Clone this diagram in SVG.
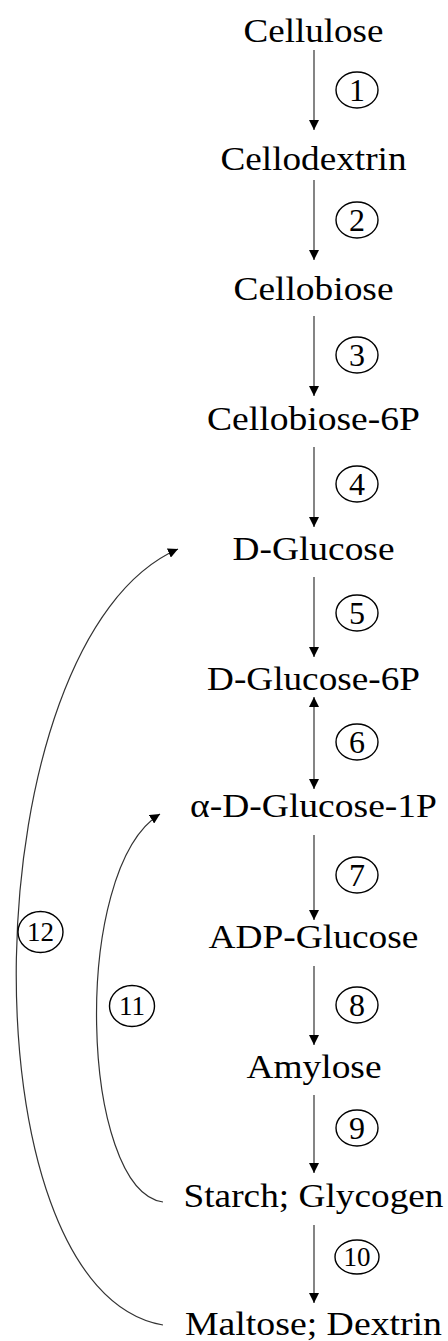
<svg xmlns="http://www.w3.org/2000/svg" width="448" height="1341" viewBox="0 0 448 1341">
  <style>
    .lbl { font-family: "Liberation Serif", "Times New Roman", serif; font-size: 34px; fill: #000; text-anchor: middle; }
    .num { font-family: "Liberation Serif", "Times New Roman", serif; font-size: 32px; fill: #000; text-anchor: middle; }
    .num2 { font-family: "Liberation Serif", "Times New Roman", serif; font-size: 27px; fill: #000; text-anchor: middle; }
    .ring { fill: none; stroke: #000; stroke-width: 1.4; }
    .edge { fill: none; stroke: #333; stroke-width: 1.2; }
  </style>
  <defs>
    <marker id="head" viewBox="0 0 10 10" refX="10" refY="5" markerWidth="10" markerHeight="10" markerUnits="userSpaceOnUse" orient="auto-start-reverse">
      <path d="M0,0 L10,5 L0,10 Z" fill="#000"/>
    </marker>
  </defs>
  <rect width="448" height="1341" fill="#fff"/>

  <!-- metabolites -->
  <g id="n-cellulose"><text class="lbl" x="313.5" y="42" textLength="140" lengthAdjust="spacingAndGlyphs">Cellulose</text></g>
  <g id="n-cellodextrin"><text class="lbl" x="313.5" y="170" textLength="186" lengthAdjust="spacingAndGlyphs">Cellodextrin</text></g>
  <g id="n-cellobiose"><text class="lbl" x="313.5" y="300" textLength="160" lengthAdjust="spacingAndGlyphs">Cellobiose</text></g>
  <g id="n-cellobiose6p"><text class="lbl" x="313.5" y="430" textLength="213" lengthAdjust="spacingAndGlyphs">Cellobiose-6P</text></g>
  <g id="n-dglucose"><text class="lbl" x="313.5" y="560" textLength="162" lengthAdjust="spacingAndGlyphs">D-Glucose</text></g>
  <g id="n-dglucose6p"><text class="lbl" x="313.5" y="690" textLength="213" lengthAdjust="spacingAndGlyphs">D-Glucose-6P</text></g>
  <g id="n-adglucose1p"><text class="lbl" x="313.5" y="817" textLength="247" lengthAdjust="spacingAndGlyphs">α-D-Glucose-1P</text></g>
  <g id="n-adpglucose"><text class="lbl" x="313.5" y="948" textLength="210" lengthAdjust="spacingAndGlyphs">ADP-Glucose</text></g>
  <g id="n-amylose"><text class="lbl" x="314" y="1078" textLength="135" lengthAdjust="spacingAndGlyphs">Amylose</text></g>
  <g id="n-starch"><text class="lbl" x="313.5" y="1207" textLength="260" lengthAdjust="spacingAndGlyphs">Starch; Glycogen</text></g>
  <g id="n-maltose"><text class="lbl" x="313.5" y="1335" textLength="257" lengthAdjust="spacingAndGlyphs">Maltose; Dextrin</text></g>

  <!-- reaction arrows -->
  <g id="connectors">
    <line class="edge" x1="314" y1="50" x2="314" y2="130" marker-end="url(#head)"/>
    <line class="edge" x1="314" y1="180" x2="314" y2="260" marker-end="url(#head)"/>
    <line class="edge" x1="314" y1="316" x2="314" y2="396" marker-end="url(#head)"/>
    <line class="edge" x1="314" y1="447" x2="314" y2="527" marker-end="url(#head)"/>
    <line class="edge" x1="314" y1="577" x2="314" y2="657" marker-end="url(#head)"/>
    <line class="edge" x1="314" y1="697" x2="314" y2="789" marker-start="url(#head)" marker-end="url(#head)"/>
    <line class="edge" x1="314" y1="835" x2="314" y2="920" marker-end="url(#head)"/>
    <line class="edge" x1="314" y1="966" x2="314" y2="1045" marker-end="url(#head)"/>
    <line class="edge" x1="314" y1="1095" x2="314" y2="1173" marker-end="url(#head)"/>
    <line class="edge" x1="314" y1="1225" x2="314" y2="1303" marker-end="url(#head)"/>
    <!-- return paths -->
    <path class="edge" d="M163,1202 C80,1190 70,870 160,814" marker-end="url(#head)"/>
    <path class="edge" d="M163,1325 C-40,1290 -30,640 178,549" marker-end="url(#head)"/>
  </g>

  <!-- enzyme step numbers -->
  <g id="s1"><ellipse class="ring" cx="357" cy="90" rx="21" ry="18"/><text class="num" x="357" y="101">1</text></g>
  <g id="s2"><ellipse class="ring" cx="357" cy="220" rx="21" ry="18"/><text class="num" x="357" y="231">2</text></g>
  <g id="s3"><ellipse class="ring" cx="357" cy="355" rx="21" ry="18"/><text class="num" x="357" y="366">3</text></g>
  <g id="s4"><ellipse class="ring" cx="357" cy="484" rx="21" ry="18"/><text class="num" x="357" y="495">4</text></g>
  <g id="s5"><ellipse class="ring" cx="357" cy="613" rx="21" ry="18"/><text class="num" x="357" y="624">5</text></g>
  <g id="s6"><ellipse class="ring" cx="357" cy="742" rx="21" ry="18"/><text class="num" x="357" y="753">6</text></g>
  <g id="s7"><ellipse class="ring" cx="357" cy="875" rx="21" ry="18"/><text class="num" x="357" y="886">7</text></g>
  <g id="s8"><ellipse class="ring" cx="357" cy="1005" rx="21" ry="18"/><text class="num" x="357" y="1016">8</text></g>
  <g id="s9"><ellipse class="ring" cx="357" cy="1128" rx="21" ry="18"/><text class="num" x="357" y="1139">9</text></g>
  <g id="s10"><ellipse class="ring" cx="357" cy="1257" rx="22" ry="17"/><text class="num2" x="357" y="1266">10</text></g>
  <g id="s11"><ellipse class="ring" cx="132" cy="1006" rx="22.5" ry="20.5"/><text class="num2" x="132" y="1015">11</text></g>
  <g id="s12"><ellipse class="ring" cx="40.5" cy="932" rx="22.5" ry="20.5"/><text class="num2" x="40.5" y="941">12</text></g>
</svg>
